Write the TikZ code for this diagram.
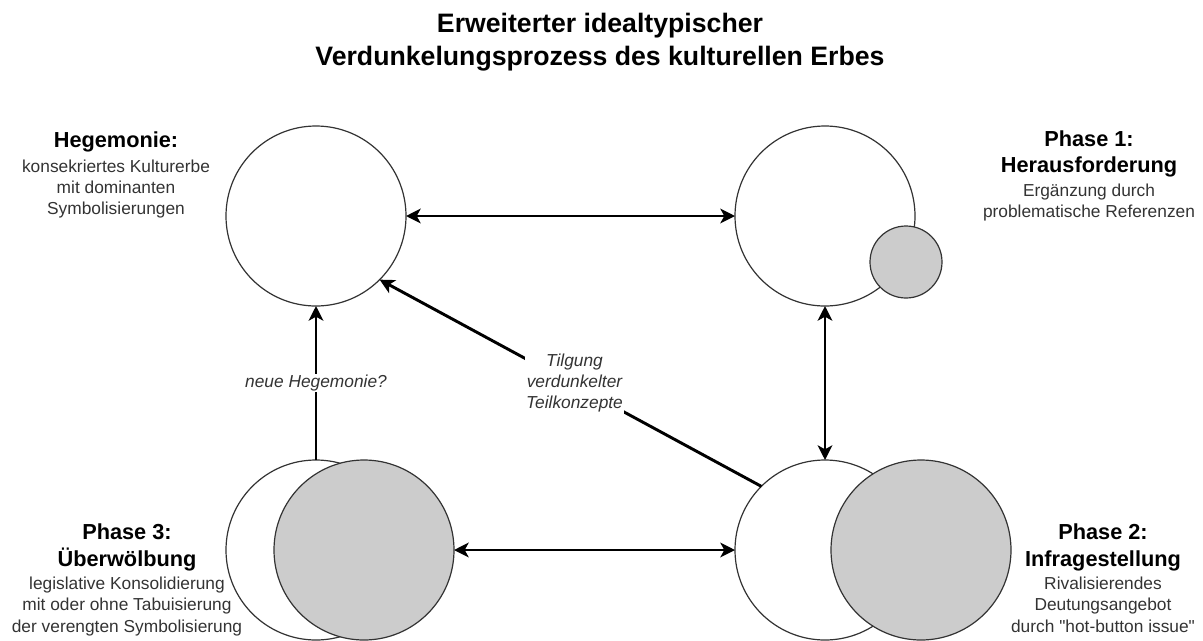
\documentclass[tikz,border=0pt]{standalone}
\usepackage{fontspec}
\setmainfont{Liberation Sans}[Ligatures=TeXOff]
\usepackage{tikz}
\usetikzlibrary{arrows.meta,positioning}

\newcommand{\hd}[1]{{\fontsize{16.3}{19.5}\selectfont\bfseries\color{black}#1}}
\setlength{\lineskiplimit}{-20pt}

\begin{document}
\begin{tikzpicture}[
    x=0.75pt, y=-0.75pt,
    >={Stealth[length=11pt,width=11pt,inset=3pt]},
    circ/.style={circle, draw=black!80, line width=0.9pt, fill=white, inner sep=0pt, outer sep=0pt, minimum size=135pt},
    dark/.style={circ, fill=black!20},
    txt/.style={align=center, inner sep=0pt, text=black!80, font=\fontsize{13}{16}\selectfont},
    ttl/.style={align=center, inner sep=0pt, font=\fontsize{20}{24.75}\selectfont\bfseries},
    lab/.style={txt, fill=white, inner sep=1pt, font=\fontsize{13}{16}\selectfont\itshape},
    arrow/.style={line width=2.2pt}
]
\useasboundingbox (0,0) rectangle (1203,640);

\node[ttl, anchor=north] (title) at (600,12.5) {Erweiterter idealtypischer\\Verdunkelungsprozess des kulturellen Erbes};

\node[circ] (heg) at (316,216) {};
\node[circ, right=246.75pt of heg] (ph1) {};
\node[dark, minimum size=54pt] (ph1s) at (906,262) {};
\node[circ, below=115.5pt of heg] (ph3) {};
\node[dark] (ph3s) at (364,550) {};
\node[circ, below=115.5pt of ph1] (ph2) {};
\node[dark] (ph2s) at (921,550) {};

\node[txt, anchor=north] (hegtxt) at (116,131.5) {\hd{Hegemonie:}\\[2.4pt]konsekriertes Kulturerbe\\mit dominanten\\Symbolisierungen};
\node[txt, anchor=north] (ph1txt) at (1089,130) {\hd{Phase 1:}\\[3.9pt]\hd{Herausforderung}\\[1.6pt]Ergänzung durch\\problematische Referenzen};
\node[txt, anchor=north] (ph3txt) at (127,523.5) {\hd{Phase 3:}\\[3.9pt]\hd{Überwölbung}\\[1.6pt]legislative Konsolidierung\\mit oder ohne Tabuisierung\\der verengten Symbolisierung};
\node[txt, anchor=north] (ph2txt) at (1103,523.5) {\hd{Phase 2:}\\[3.9pt]\hd{Infragestellung}\\[1.6pt]Rivalisierendes\\Deutungsangebot\\durch "hot-button issue"};

\draw[arrow, <->] (heg) -- (ph1);
\draw[arrow, <->] (ph1) -- (ph2);
\draw[arrow, <->] (ph3s) -- (ph2);
\draw[arrow, ->] (ph3) -- node[lab] {neue Hegemonie?} (heg);
\draw[arrow, ->] (ph2.135) -- node[lab, xshift=3pt] {Tilgung\\verdunkelter\\Teilkonzepte} (heg.-45);
\end{tikzpicture}
\end{document}
